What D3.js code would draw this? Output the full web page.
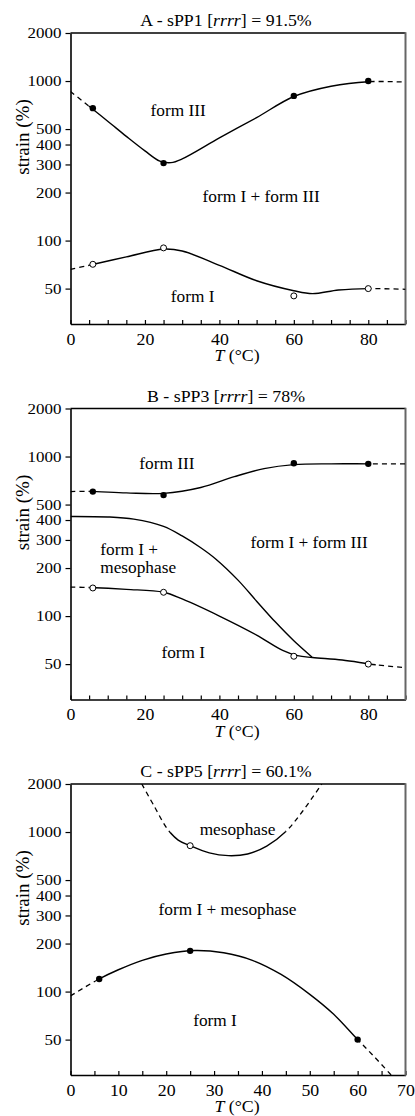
<!DOCTYPE html>
<html>
<head>
<meta charset="utf-8">
<script src="https://cdn.jsdelivr.net/npm/d3@7"></script>
<style>
  html, body { margin: 0; padding: 0; background: #fff; }
  svg { display: block; }
  text { font-family: "Liberation Serif", "Times New Roman", serif; fill: #000; }
</style>
</head>
<body>
<svg id="chart" width="415" height="1116"></svg>
<script>
// ---- shared axis data ----
const yTickValues = [50, 100, 200, 300, 400, 500, 1000, 2000];
const yDomain = [30, 2000];
const xTicksAB = [0, 20, 40, 60, 80];
const xTicksC = [0, 10, 20, 30, 40, 50, 60, 70];
const xDomainAB = [0, 90];
const xDomainC = [0, 70];

// ---- panel A: sPP1, [rrrr] = 91.5% ----
const aFilled = [[6, 676], [25, 306], [60, 807], [80, 1000]];
const aOpen = [[6, 71], [25, 90], [60, 45], [80, 50]];
const aUpper = [[0, 860], [4.8, 700], [10, 560], [15, 450], [20, 365], [24, 315], [27, 308], [30, 325], [40, 440], [50, 590], [60, 800], [70, 928], [80, 990], [90, 985]];
const aUpperSolidRange = [4.8, 80];
const aLower = [[0, 66], [5, 70], [15, 79], [25, 88.5], [30, 86], [40, 70], [50, 56], [60, 48.5], [65, 46.5], [72, 49], [80, 50], [90, 49.5]];
const aLowerSolidRange = [5, 80];
const aLabels = [["form III", 28.9, 650], ["form I + form III", 51.2, 189], ["form I", 32.8, 44.4]];

// ---- panel B: sPP3, [rrrr] = 78% ----
const bFilled = [[6, 603], [25, 573], [60, 907], [80, 900]];
const bOpen = [[6, 150], [25, 141], [60, 56], [80, 50]];
const bUpper = [[0, 603], [5, 605], [15, 592], [25, 588], [35, 640], [44, 748], [52, 840], [60, 890], [70, 900], [80, 900], [90, 900]];
const bUpperSolidRange = [5, 80];
const bMeso = [[0, 421], [10, 418], [17, 405], [25, 365], [30, 318], [35, 268], [39, 228], [45, 168], [50, 124], [55, 92], [60, 70], [65, 55]];
const bMesoSolidRange = [0, 65];
const bLower = [[0, 152], [5, 151], [15, 147], [25, 141], [30, 128], [40, 100], [50, 76], [57, 61], [61, 56.5], [65, 55], [73, 53], [82, 49.5], [90, 47.5]];
const bLowerSolidRange = [5, 82];
const bLabels = [["form III", 25.9, 907], ["form I + form III", 64.1, 287], ["form I", 30.3, 58.7]];
const bLeftLabels = [["form I +", 8, 261], ["mesophase", 8, 200]];

// ---- panel C: sPP5, [rrrr] = 60.1% ----
const cFilled = [[6, 120], [25, 180], [60, 50]];
const cOpen = [[25, 821]];
const cMeso = [[14.9, 2000], [17.5, 1450], [20.3, 1040], [22.5, 890], [25, 821], [29, 740], [33, 711], [37, 728], [41, 815], [45, 1008], [48.5, 1350], [52.5, 2000]];
const cMesoSolidRange = [21, 45];
const cLower = [[0, 94], [6, 120], [10, 137], [15, 157], [20, 172], [26, 181], [32, 175], [38, 157], [44, 128], [50, 96], [55, 72], [60, 50], [63.5, 39], [67, 30]];
const cLowerSolidRange = [6, 60];
const cLabels = [["mesophase", 34.9, 1033], ["form I + mesophase", 32.8, 327], ["form I", 30.2, 65.9]];

// ---- panel definitions built from the arrays above ----
const panels = [
  { id: "A", sample: "sPP1", pct: "91.5%", xDomain: xDomainAB, xTicks: xTicksAB,
    curves: [[aUpper, aUpperSolidRange], [aLower, aLowerSolidRange]],
    filled: aFilled, open: aOpen, labels: aLabels, leftLabels: [] },
  { id: "B", sample: "sPP3", pct: "78%", xDomain: xDomainAB, xTicks: xTicksAB,
    curves: [[bUpper, bUpperSolidRange], [bMeso, bMesoSolidRange], [bLower, bLowerSolidRange]],
    filled: bFilled, open: bOpen, labels: bLabels, leftLabels: bLeftLabels },
  { id: "C", sample: "sPP5", pct: "60.1%", xDomain: xDomainC, xTicks: xTicksC,
    curves: [[cMeso, cMesoSolidRange], [cLower, cLowerSolidRange]],
    filled: cFilled, open: cOpen, labels: cLabels, leftLabels: [] }
];

// ---- layout ----
const plotLeft = 70.5, plotRight = 405.5;
const plotH = 291;
const panelTops = [33, 408.5, 784];
const stretch = 1.08;   // horizontal widening applied to the serif text

const svg = d3.select("#chart");
const defs = svg.append("defs");

function stretchedText(g, x, y, str) {
  return g.append("text")
    .attr("transform", `translate(${x},${y}) scale(${stretch},1)`)
    .text(str);
}

panels.forEach((p, i) => {
  const top = panelTops[i];
  const x = d3.scaleLinear().domain(p.xDomain).range([plotLeft, plotRight]);
  const y = d3.scaleLog().domain(yDomain).range([top + plotH, top]);
  const g = svg.append("g").attr("class", "panel-" + p.id);

  // x axis with minor ticks every 5 degrees, pointing inward
  const xAll = d3.range(p.xDomain[0], p.xDomain[1] + 0.001, 5);
  const xAxis = d3.axisBottom(x)
    .tickValues(xAll)
    .tickSize(-4)
    .tickSizeOuter(0)
    .tickPadding(9)
    .tickFormat(d => p.xTicks.includes(d) ? d3.format("d")(d) : "");
  const gx = g.append("g")
    .attr("transform", `translate(0,${top + plotH})`)
    .call(xAxis);
  gx.select(".domain").attr("stroke", "#000").attr("stroke-width", 1.6);
  gx.selectAll(".tick line").attr("stroke", "#000").attr("stroke-width", 1.2);
  gx.selectAll(".tick text")
    .attr("font-family", "Liberation Serif, serif")
    .attr("font-size", 16.5)
    .attr("transform", `scale(${stretch},1)`);

  // y axis (log) with outward ticks
  const yAxis = d3.axisLeft(y)
    .tickValues(yTickValues)
    .tickSize(5)
    .tickSizeOuter(0)
    .tickPadding(3)
    .tickFormat(d3.format("d"));
  const gy = g.append("g")
    .attr("transform", `translate(${plotLeft},0)`)
    .call(yAxis);
  gy.select(".domain").attr("stroke", "#000").attr("stroke-width", 1.6);
  gy.selectAll(".tick line").attr("stroke", "#000").attr("stroke-width", 1.2);
  gy.selectAll(".tick text")
    .attr("font-family", "Liberation Serif, serif")
    .attr("font-size", 15)
    .attr("transform", "scale(1.13,1)");

  // top and right frame lines
  g.append("line")
    .attr("x1", plotLeft).attr("x2", plotRight)
    .attr("y1", top).attr("y2", top)
    .attr("stroke", "#000").attr("stroke-width", 1.6);
  g.append("line")
    .attr("x1", plotRight).attr("x2", plotRight)
    .attr("y1", top - 0.8).attr("y2", top + plotH + 0.8)
    .attr("stroke", "#666").attr("stroke-width", 2);

  // boundary curves: one smooth path each, solid inside its measured range,
  // dashed where it is extrapolated
  const line = d3.line()
    .x(d => x(d[0]))
    .y(d => y(d[1]))
    .curve(d3.curveCatmullRom.alpha(0.5));
  p.curves.forEach(([nodes, range], k) => {
    const solidId = `solid-${p.id}-${k}`;
    const dashId = `dash-${p.id}-${k}`;
    const xs0 = x(range[0]), xs1 = x(range[1]);
    defs.append("clipPath").attr("id", solidId)
      .append("rect")
      .attr("x", xs0).attr("y", top)
      .attr("width", xs1 - xs0).attr("height", plotH);
    const dc = defs.append("clipPath").attr("id", dashId);
    dc.append("rect")
      .attr("x", plotLeft).attr("y", top)
      .attr("width", Math.max(0, xs0 - plotLeft)).attr("height", plotH);
    dc.append("rect")
      .attr("x", xs1).attr("y", top)
      .attr("width", Math.max(0, plotRight - xs1)).attr("height", plotH);

    const d = line(nodes);
    g.append("path")
      .attr("d", d)
      .attr("clip-path", `url(#${solidId})`)
      .attr("fill", "none").attr("stroke", "#000").attr("stroke-width", 1.4);
    g.append("path")
      .attr("d", d)
      .attr("clip-path", `url(#${dashId})`)
      .attr("fill", "none").attr("stroke", "#000").attr("stroke-width", 1.3)
      .attr("stroke-dasharray", "5,4");
  });

  // measured points
  g.selectAll("circle.filled")
    .data(p.filled).join("circle")
    .attr("class", "filled")
    .attr("cx", d => x(d[0])).attr("cy", d => y(d[1]))
    .attr("r", 3.2).attr("fill", "#000");
  g.selectAll("circle.open")
    .data(p.open).join("circle")
    .attr("class", "open")
    .attr("cx", d => x(d[0])).attr("cy", d => y(d[1]))
    .attr("r", 3).attr("fill", "#fff").attr("stroke", "#000").attr("stroke-width", 1);

  // region labels
  p.labels.forEach(([t, tx, ty]) => {
    stretchedText(g, x(tx), y(ty), t)
      .attr("font-size", 16)
      .attr("text-anchor", "middle")
      .attr("dominant-baseline", "central");
  });
  p.leftLabels.forEach(([t, tx, ty]) => {
    stretchedText(g, x(tx), y(ty), t)
      .attr("font-size", 16)
      .attr("text-anchor", "start")
      .attr("dominant-baseline", "central");
  });

  // panel title: "X - sPPn [rrrr] = value"
  const title = g.append("text")
    .attr("transform", `translate(226,${top - 7}) scale(${stretch},1)`)
    .attr("text-anchor", "middle")
    .attr("font-size", 16.5);
  title.append("tspan").text(`${p.id} - ${p.sample} [`);
  title.append("tspan").attr("font-style", "italic").text("rrrr");
  title.append("tspan").text(`] = ${p.pct}`);

  // axis titles
  const xt = g.append("text")
    .attr("transform", `translate(237,${top + plotH + 37}) scale(${stretch},1)`)
    .attr("text-anchor", "middle")
    .attr("font-size", 16.5);
  xt.append("tspan").attr("font-style", "italic").text("T");
  xt.append("tspan").text(" (°C)");

  g.append("text")
    .attr("transform", `translate(22,${top + 104}) rotate(-90)`)
    .attr("text-anchor", "middle")
    .attr("dominant-baseline", "central")
    .attr("font-size", 19)
    .text("strain (%)");
});
</script>
</body>
</html>
